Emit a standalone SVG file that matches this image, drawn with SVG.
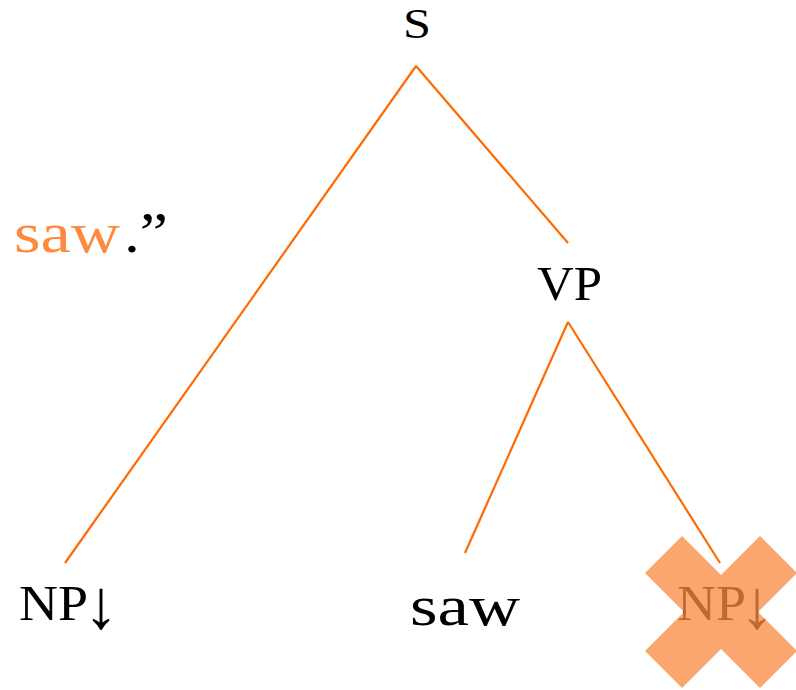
<svg xmlns="http://www.w3.org/2000/svg" width="796" height="690" viewBox="0 0 796 690">
<style>
.t{font-family:"Liberation Serif","DejaVu Serif",serif;fill:#000}
.o{fill:#FF8A3D}
.e{stroke:#FF6A00;stroke-width:2.2;fill:none}
</style>
<rect width="796" height="690" fill="#fff"/>
<g id="connectors">
<line class="e" x1="416" y1="66" x2="65" y2="563"/>
<line class="e" x1="416" y1="66" x2="568" y2="243"/>
<line class="e" x1="568" y1="322" x2="465" y2="553"/>
<line class="e" x1="568" y1="322" x2="720" y2="563"/>
</g>
<g id="caption">
<text class="t o" x="14" y="252" font-size="58" textLength="106" lengthAdjust="spacingAndGlyphs">saw</text>
<text class="t" x="124" y="252" font-size="58" textLength="44" lengthAdjust="spacingAndGlyphs">.”</text>
</g>
<g id="S"><text class="t" x="417" y="38" font-size="42" text-anchor="middle" textLength="28" lengthAdjust="spacingAndGlyphs">S</text></g>
<g id="VP"><text class="t" x="537" y="300" font-size="48" textLength="65" lengthAdjust="spacingAndGlyphs">VP</text></g>
<g id="NP1">
<text class="t" x="19" y="620" font-size="51" textLength="69" lengthAdjust="spacingAndGlyphs">NP</text>
<text class="t" x="101" y="628" font-size="70" text-anchor="middle">↓</text>
</g>
<g id="saw"><text class="t" x="410" y="625" font-size="58" textLength="110" lengthAdjust="spacingAndGlyphs">saw</text></g>
<g id="NP2">
<text class="t" x="677" y="620" font-size="51" textLength="69" lengthAdjust="spacingAndGlyphs">NP</text>
<text class="t" x="757" y="628" font-size="70" text-anchor="middle">↓</text>
<polygon transform="translate(721,612)" points="-76,-39 -39,-76 0,-37 39,-76 76,-39 37,0 76,39 39,76 0,37 -39,76 -76,39 -37,0" fill="rgb(250,138,66)" fill-opacity="0.76"/>
</g>
</svg>
